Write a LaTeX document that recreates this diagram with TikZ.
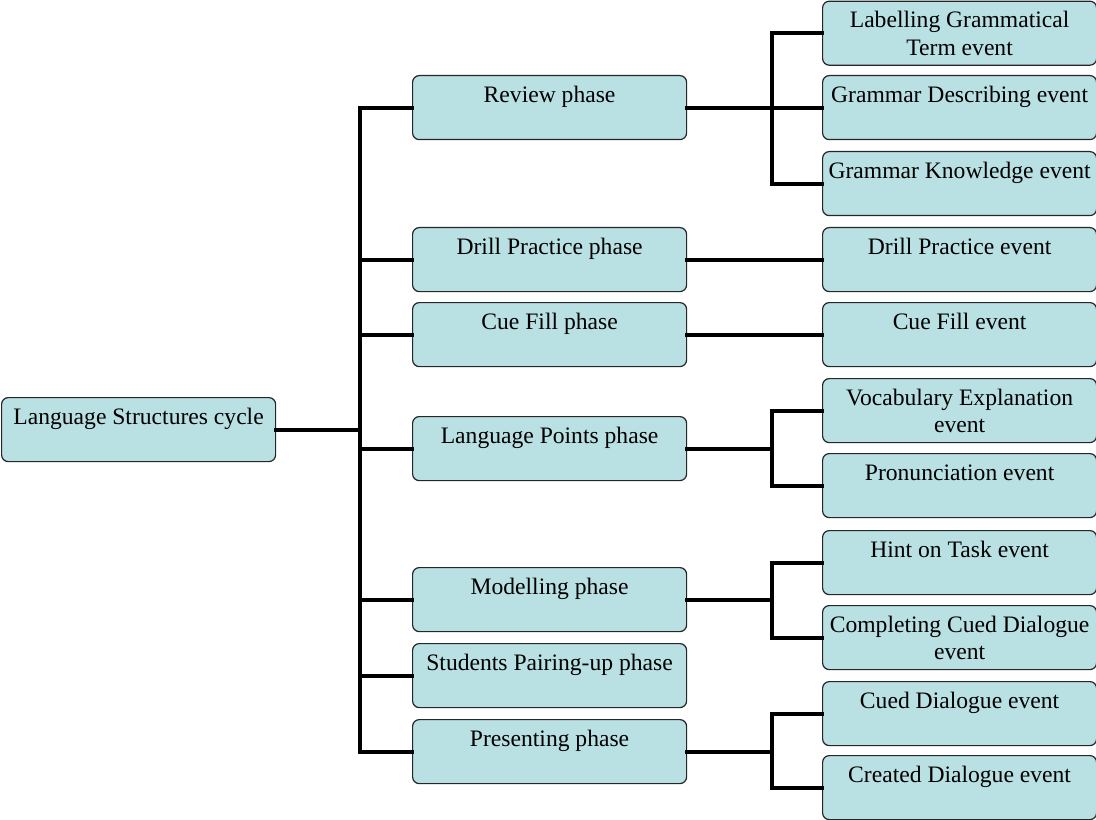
\documentclass[tikz,border=0pt]{standalone}
\usepackage{fontspec}
\setmainfont{Liberation Serif}
\definecolor{boxfill}{RGB}{185,224,227}
\newcommand\bt[1]{\parbox[t][48pt][t]{205.5pt}{\fontsize{17.7}{20.5}\selectfont\centering\rule{0pt}{20pt}#1\par}}
\tikzset{
  box/.style={draw=black!85, line width=0.9pt, fill=boxfill, rounded corners=5pt, inner sep=0pt, anchor=north west},
  conn/.style={line width=2.9pt, line join=miter, line cap=rect},
}
\begin{document}
\begin{tikzpicture}[x=0.75pt,y=-0.75pt]
\useasboundingbox (0,0) rectangle (1096,820);
% root
\node[box] (root) at (1,397) {\bt{Language Structures cycle}};
% phases
\node[box] (rev) at (412,75) {\bt{Review phase}};
\node[box] (dri) at (412,227) {\bt{Drill Practice phase}};
\node[box] (cue) at (412,302) {\bt{Cue Fill phase}};
\node[box] (lan) at (412,416) {\bt{Language Points phase}};
\node[box] (mod) at (412,567) {\bt{Modelling phase}};
\node[box] (pai) at (412,643) {\bt{Students Pairing-up phase}};
\node[box] (pre) at (412,719) {\bt{Presenting phase}};
% events
\node[box] (lab) at (822,0.6) {\bt{Labelling Grammatical\\Term event}};
\node[box] (des) at (822,75) {\bt{Grammar Describing event}};
\node[box] (kno) at (822,151) {\bt{Grammar Knowledge event}};
\node[box] (dre) at (822,227) {\bt{Drill Practice event}};
\node[box] (cfe) at (822,302) {\bt{Cue Fill event}};
\node[box] (voc) at (822,378) {\bt{Vocabulary Explanation\\event}};
\node[box] (pro) at (822,453) {\bt{Pronunciation event}};
\node[box] (hin) at (822,530) {\bt{Hint on Task event}};
\node[box] (com) at (822,605) {\bt{Completing Cued Dialogue\\event}};
\node[box] (cde) at (822,681) {\bt{Cued Dialogue event}};
\node[box] (cre) at (822,755) {\bt{Created Dialogue event}};
% spines
\coordinate (sp) at (360,0);
\coordinate (ss) at (772,0);
\draw[conn] (root.east) -- (root.east -| sp);
\draw[conn] (rev.west -| sp) -- (pre.west -| sp);
\foreach \n in {rev,dri,cue,lan,mod,pai,pre}{
  \draw[conn] (\n.west -| sp) -- (\n.west);
}
% review
\draw[conn] (rev.east) -- (des.west);
\draw[conn] (lab.west) -- (lab.west -| ss) -- (kno.west -| ss) -- (kno.west);
% drill, cue fill
\draw[conn] (dri.east) -- (dre.west);
\draw[conn] (cue.east) -- (cfe.west);
% language points
\draw[conn] (lan.east) -- (lan.east -| ss);
\draw[conn] (voc.west) -- (voc.west -| ss) -- (pro.west -| ss) -- (pro.west);
% modelling
\draw[conn] (mod.east) -- (mod.east -| ss);
\draw[conn] (hin.west) -- (hin.west -| ss) -- (com.west -| ss) -- (com.west);
% presenting
\draw[conn] (pre.east) -- (pre.east -| ss);
\draw[conn] (cde.west) -- (cde.west -| ss) -- (cre.west -| ss) -- (cre.west);
\end{tikzpicture}
\end{document}
